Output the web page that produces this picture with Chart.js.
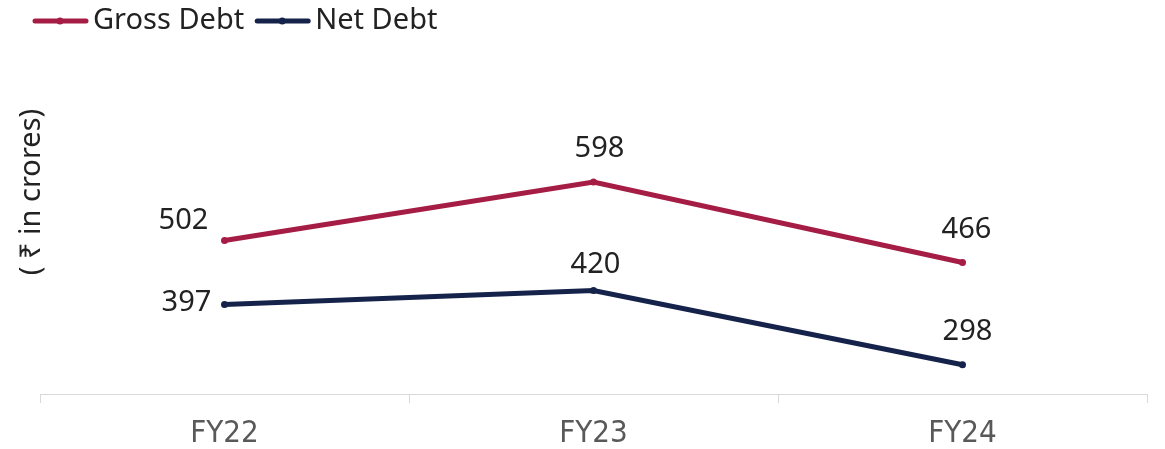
<!DOCTYPE html>
<html lang="en">
<head>
  <meta charset="UTF-8" />
  <title>Gross Debt vs Net Debt</title>
  <script src="https://cdn.jsdelivr.net/npm/chart.js"></script>
  <style>
    * { margin: 0; padding: 0; box-sizing: border-box; }
    body { background: #ffffff; width: 1165px; height: 449px; overflow: hidden; }
    .wrap { position: relative; width: 1165px; height: 449px; }
  </style>
</head>
<body>
  <div class="wrap">
    <canvas id="debtChart"></canvas>
  </div>

  <script>
    const categories = ['FY22', 'FY23', 'FY24'];
    const grossDebt = [502, 598, 466];
    const netDebt = [397, 420, 298];
    const yTitle = '( \u20B9 in crores)';

    const GROSS = '#a51c44';
    const NET = '#15234b';
    const TEXT = '#222222';

    // label placement per point (dx, dy from the point)
    const labelShift = [
      [[-41, -20], [6, -33], [4, -33]],
      [[-38, -2], [2, -26], [5, -33]]
    ];

    const valueLabels = {
      id: 'valueLabels',
      afterDatasetsDraw(chart) {
        const ctx = chart.ctx;
        ctx.save();
        ctx.font = '29px "Noto Sans", sans-serif';
        ctx.fillStyle = TEXT;
        ctx.textAlign = 'center';
        ctx.textBaseline = 'middle';
        chart.data.datasets.forEach((ds, i) => {
          chart.getDatasetMeta(i).data.forEach((pt, j) => {
            const s = labelShift[i][j];
            ctx.fillText(ds.data[j], pt.x + s[0], pt.y + s[1]);
          });
        });
        ctx.restore();
      }
    };

    const legendAndTitle = {
      id: 'legendAndTitle',
      afterDraw(chart) {
        const ctx = chart.ctx;
        ctx.save();
        // legend
        ctx.font = '29px "Noto Sans", sans-serif';
        ctx.textBaseline = 'middle';
        let x = 33;
        const y = 21;
        chart.data.datasets.forEach(ds => {
          ctx.strokeStyle = ds.borderColor;
          ctx.lineWidth = 5;
          ctx.lineCap = 'round';
          ctx.beginPath();
          ctx.moveTo(x + 2, y);
          ctx.lineTo(x + 53, y);
          ctx.stroke();
          ctx.fillStyle = ds.borderColor;
          ctx.beginPath();
          ctx.arc(x + 27, y, 3.5, 0, Math.PI * 2);
          ctx.fill();
          ctx.fillStyle = TEXT;
          ctx.fillText(ds.label, x + 60, y);
          x += 60 + ctx.measureText(ds.label).width + 11;
        });
        // y axis title
        ctx.font = '29px "Noto Sans", sans-serif';
        ctx.fillStyle = TEXT;
        ctx.textAlign = 'center';
        ctx.translate(32, 192);
        ctx.rotate(-Math.PI / 2);
        ctx.fillText(yTitle, 0, 0);
        ctx.restore();
      }
    };

    new Chart(document.getElementById('debtChart'), {
      type: 'line',
      data: {
        labels: categories,
        datasets: [
          {
            label: 'Gross Debt',
            data: grossDebt,
            borderColor: GROSS,
            backgroundColor: GROSS,
            borderWidth: 5,
            pointRadius: 3.5,
            pointBorderWidth: 0,
            pointBackgroundColor: GROSS,
            tension: 0
          },
          {
            label: 'Net Debt',
            data: netDebt,
            borderColor: NET,
            backgroundColor: NET,
            borderWidth: 5,
            pointRadius: 3.5,
            pointBorderWidth: 0,
            pointBackgroundColor: NET,
            tension: 0
          }
        ]
      },
      options: {
        responsive: true,
        maintainAspectRatio: false,
        animation: false,
        layout: { padding: { top: 120, left: 40, right: 18, bottom: 0 } },
        plugins: {
          legend: { display: false },
          tooltip: { enabled: false }
        },
        scales: {
          x: {
            offset: true,
            grid: {
              offset: true,
              drawOnChartArea: false,
              color: '#d9d9d9',
              tickLength: 9
            },
            border: { color: '#d9d9d9' },
            ticks: {
              color: '#595959',
              padding: 12,
              font: { family: '"Liberation Sans Narrow", "DejaVu Sans Condensed", sans-serif', size: 31 }
            },
            afterFit(scale) { scale.height = 55; }
          },
          y: {
            display: false,
            min: 250,
            max: 700
          }
        }
      },
      plugins: [valueLabels, legendAndTitle]
    });
  </script>
</body>
</html>
